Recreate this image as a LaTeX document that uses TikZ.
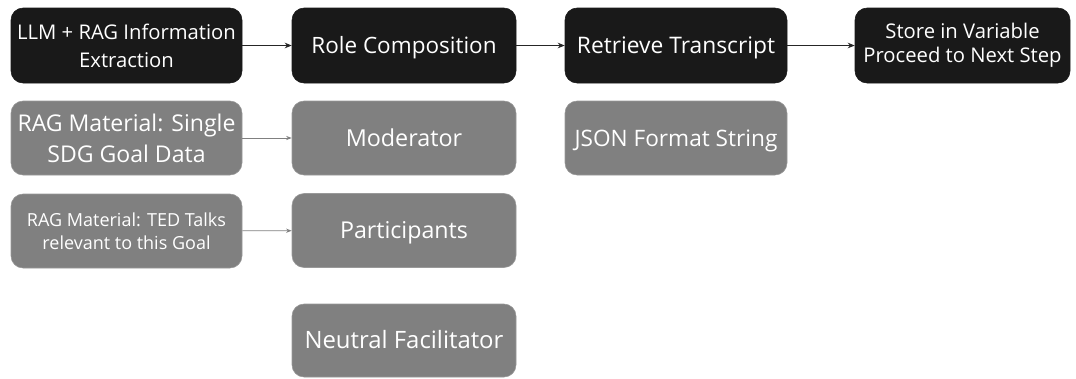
\documentclass[tikz,border=0pt]{standalone}
\usepackage{fontspec}
\setmainfont{Open Sans}
\usetikzlibrary{arrows.meta}

\tikzset{
  darkbox/.style={draw=black!90, fill=black!90, text=white, rounded corners=12*0.025cm,
    inner sep=0pt, align=center},
  greybox/.style={draw=black!40, fill=black!50, text=white, rounded corners=12*0.025cm,
    inner sep=0pt, align=center},
  oneline/.style={text height=11.7pt, text depth=0pt},
  darkarrow/.style={-{Stealth[length=5pt,width=4pt]}, line width=0.9pt, black!85},
  greyarrow/.style={-{Stealth[length=4pt,width=3pt]}, line width=0.6pt, black!50},
}

\begin{document}
\begin{tikzpicture}[x=0.025cm, y=-0.025cm]
    \useasboundingbox (0,0) rectangle (1076,378);
    % top row
    \node[darkbox, minimum width=231*0.025cm, minimum height=75*0.025cm, font=\fontsize{14.4}{20}\selectfont] (extract) at (126.5,45.5) {LLM + RAG Information\\Extraction};
    \node[darkbox, oneline, minimum width=224*0.025cm, minimum height=75*0.025cm, font=\fontsize{16}{18}\selectfont] (roles) at (404,45.5) {Role Composition};
    \node[darkbox, oneline, minimum width=222*0.025cm, minimum height=75*0.025cm, font=\fontsize{16.2}{18}\selectfont] (retrieve) at (676,45.5) {Retrieve Transcript};
    \node[darkbox, minimum width=215*0.025cm, minimum height=75*0.025cm, font=\fontsize{14.4}{17}\selectfont] (store) at (962.5,45.5) {Store in Variable\\Proceed to Next Step};
    % material
    \node[greybox, minimum width=231*0.025cm, minimum height=74*0.025cm, font=\fontsize{16.4}{22}\selectfont] (sdg) at (126.5,138) {RAG Material: Single\\SDG Goal Data};
    \node[greybox, minimum width=231*0.025cm, minimum height=74*0.025cm, font=\fontsize{12.8}{16.4}\selectfont] (ted) at (126.5,231) {RAG Material: TED Talks\\relevant to this Goal};
    % roles
    \node[greybox, oneline, minimum width=224*0.025cm, minimum height=74*0.025cm, font=\fontsize{16.6}{18}\selectfont] (moderator) at (404,138) {Moderator};
    \node[greybox, oneline, minimum width=224*0.025cm, minimum height=74*0.025cm, font=\fontsize{16.5}{18}\selectfont] (participants) at (404,230.5) {Participants};
    \node[greybox, oneline, minimum width=224*0.025cm, minimum height=73*0.025cm, font=\fontsize{17}{18}\selectfont] (facilitator) at (404,340.5) {Neutral Facilitator};
    \node[greybox, oneline, minimum width=222*0.025cm, minimum height=74*0.025cm, font=\fontsize{16.1}{18}\selectfont] (json) at (676,138) {JSON Format String};
    % connectors
    \draw[darkarrow] (extract) -- (roles);
    \draw[darkarrow] (roles) -- (retrieve);
    \draw[darkarrow] (retrieve) -- (store);
    \draw[greyarrow] (sdg) -- (moderator);
    \draw[greyarrow] (ted) -- (participants);
\end{tikzpicture}
\end{document}
